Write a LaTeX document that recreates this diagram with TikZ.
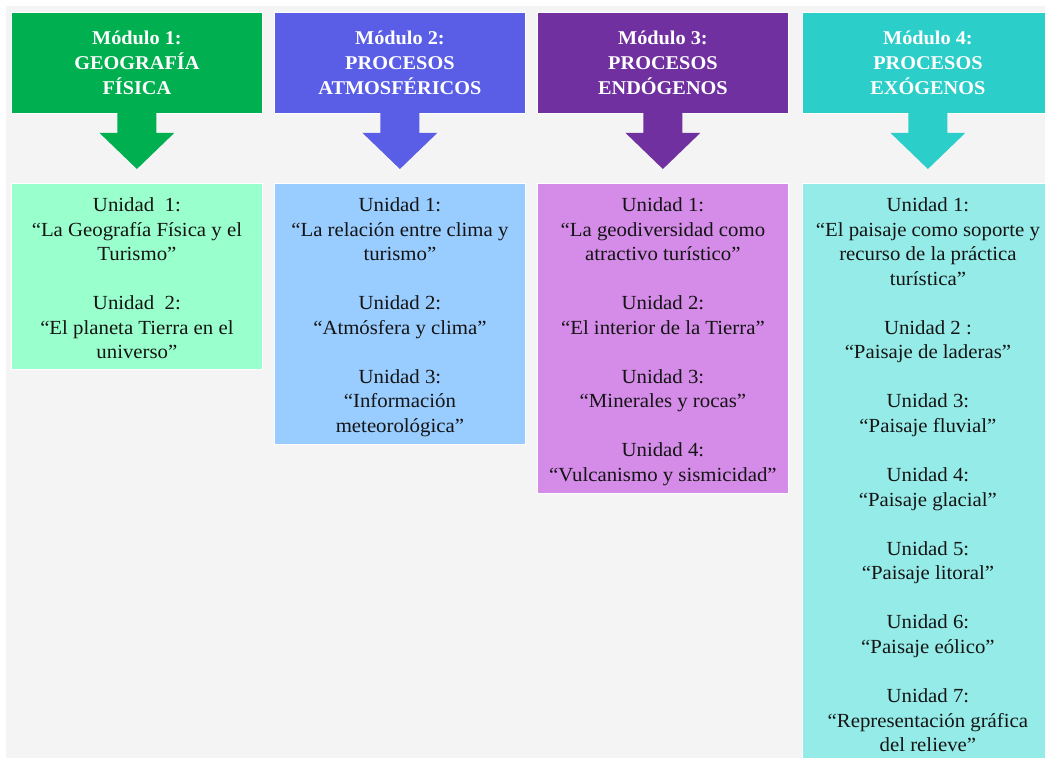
\documentclass[tikz,border=0pt]{standalone}
\usepackage{fontspec}
\setmainfont[FakeStretch=1.04]{Liberation Serif}
\usetikzlibrary{calc}
\definecolor{bggray}{HTML}{F4F4F4}
\definecolor{hA}{HTML}{00B050}
\definecolor{hB}{HTML}{5A5EE6}
\definecolor{hC}{HTML}{7030A0}
\definecolor{hD}{HTML}{2CCEC9}
\definecolor{uA}{HTML}{99FFCC}
\definecolor{uB}{HTML}{99CCFF}
\definecolor{uC}{HTML}{D58BE8}
\definecolor{uD}{HTML}{95EBE7}
\definecolor{txt}{HTML}{141414}
\newcommand\mydownarrow[3]{%
  \fill[#3] ($(#1.south)+(-19.5,-1)$) -- ($(#1.south)+(-19.5,19)$) -- ($(#1.south)+(-37.5,19)$)
    -- ($(#2.north)+(0,-14)$) -- ($(#1.south)+(37.5,19)$) -- ($(#1.south)+(19.5,19)$)
    -- ($(#1.south)+(19.5,-1)$) -- cycle;}
\begin{document}
\begin{tikzpicture}[x=1pt,y=-1pt,
  hdr/.style={draw=white, line width=0.8pt, minimum width=251pt, minimum height=101pt,
    inner sep=0pt, anchor=north west, text=white, align=center,
    font=\bfseries\fontsize{19.5}{24.6}\selectfont},
  unitbox/.style={draw=white, line width=0.8pt, minimum width=251pt, inner sep=0pt, anchor=north west},
  unittext/.style={anchor=north, align=center, inner sep=0pt, text=txt,
    font=\fontsize{20}{24.55}\selectfont}
]
\useasboundingbox (0,0) rectangle (1045,758);
\begin{scope}
\clip (0,0) rectangle (1045,758);
\fill[white] (0,0) rectangle (1045,758);
\fill[bggray] (6,6) rectangle (1045,758);

\node[hdr, fill=hA] (m1) at (11,12) {Módulo 1:\\GEOGRAFÍA\\FÍSICA};
\node[hdr, fill=hB] (m2) at (274,12) {Módulo 2:\\PROCESOS\\ATMOSFÉRICOS};
\node[hdr, fill=hC] (m3) at (537,12) {Módulo 3:\\PROCESOS\\ENDÓGENOS};
\node[hdr, fill=hD] (m4) at (802,12) {Módulo 4:\\PROCESOS\\EXÓGENOS};

\node[unitbox, fill=uA, minimum height=186pt] (b1) at (11,183) {};
\node[unitbox, fill=uB, minimum height=261pt] (b2) at (274,183) {};
\node[unitbox, fill=uC, minimum height=310pt] (b3) at (537,183) {};
\node[unitbox, fill=uD, minimum height=597pt] (b4) at (802,183) {};

\mydownarrow{m1}{b1}{hA}
\mydownarrow{m2}{b2}{hB}
\mydownarrow{m3}{b3}{hC}
\mydownarrow{m4}{b4}{hD}

\node[unittext] (t1) at ($(b1.north)+(0,14.4)$) {Unidad~~1:\\“La Geografía Física y el\\Turismo”\\[24.55pt]Unidad~~2:\\“El planeta Tierra en el\\universo”};
\node[unittext] (t2) at ($(b2.north)+(0,14.4)$) {Unidad 1:\\“La relación entre clima y\\turismo”\\[24.55pt]Unidad 2:\\“Atmósfera y clima”\\[24.55pt]Unidad 3:\\“Información\\meteorológica”};
\node[unittext] (t3) at ($(b3.north)+(0,14.4)$) {Unidad 1:\\“La geodiversidad como\\atractivo turístico”\\[24.55pt]Unidad 2:\\“El interior de la Tierra”\\[24.55pt]Unidad 3:\\“Minerales y rocas”\\[24.55pt]Unidad 4:\\“Vulcanismo y sismicidad”};
\node[unittext] (t4) at ($(b4.north)+(0,14.4)$) {Unidad 1:\\“El paisaje como soporte y\\recurso de la práctica\\turística”\\[24.55pt]Unidad 2 :\\“Paisaje de laderas”\\[24.55pt]Unidad 3:\\“Paisaje fluvial”\\[24.55pt]Unidad 4:\\“Paisaje glacial”\\[24.55pt]Unidad 5:\\“Paisaje litoral”\\[24.55pt]Unidad 6:\\“Paisaje eólico”\\[24.55pt]Unidad 7:\\“Representación gráfica\\del relieve”};
\end{scope}
\end{tikzpicture}
\end{document}
